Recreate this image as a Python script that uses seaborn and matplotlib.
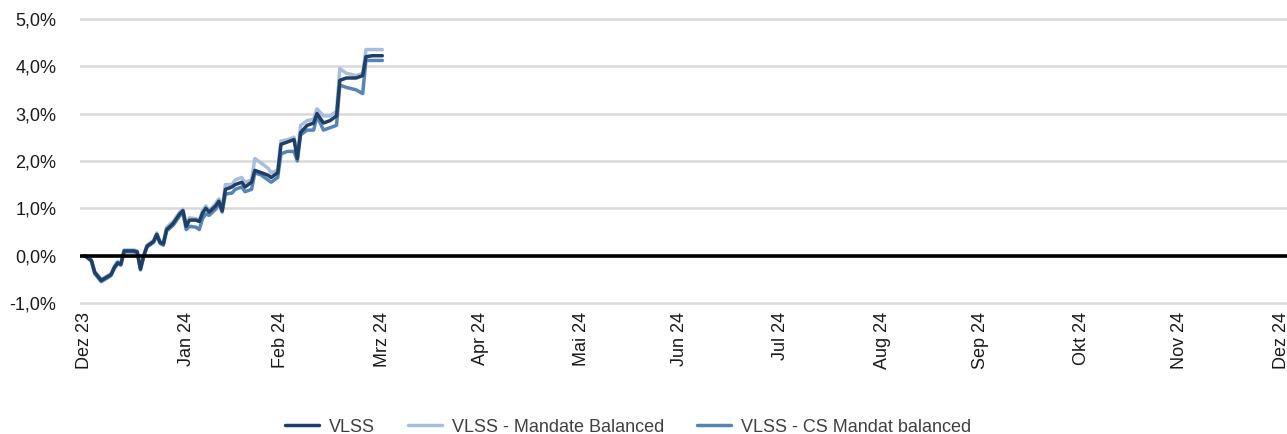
import pandas as pd
import numpy as np
import matplotlib
matplotlib.use("Agg")
import matplotlib.pyplot as plt
import matplotlib.ticker as mticker
import seaborn as sns

# Daten (Performance in %)
dates = ["2023-12-31", "2024-01-02", "2024-01-03", "2024-01-05", "2024-01-08", "2024-01-09",
         "2024-01-10", "2024-01-11", "2024-01-12", "2024-01-15", "2024-01-16", "2024-01-17",
         "2024-01-18", "2024-01-19", "2024-01-21", "2024-01-22", "2024-01-23", "2024-01-24",
         "2024-01-25", "2024-01-27", "2024-01-28", "2024-01-29", "2024-01-30", "2024-01-31",
         "2024-02-01", "2024-02-03", "2024-02-04", "2024-02-05", "2024-02-06", "2024-02-07",
         "2024-02-09", "2024-02-10", "2024-02-11", "2024-02-12", "2024-02-14", "2024-02-15",
         "2024-02-17", "2024-02-18", "2024-02-20", "2024-02-21", "2024-02-23", "2024-02-25",
         "2024-02-26", "2024-02-28", "2024-02-29", "2024-03-02", "2024-03-04", "2024-03-05",
         "2024-03-06", "2024-03-08", "2024-03-10", "2024-03-11", "2024-03-13", "2024-03-15",
         "2024-03-17", "2024-03-18", "2024-03-20", "2024-03-23", "2024-03-25", "2024-03-26",
         "2024-03-28", "2024-03-31"]

vlss = [0.0, -0.1, -0.35, -0.52, -0.4, -0.25, -0.15, -0.18, 0.1, 0.1, 0.08, -0.28,
        0.0, 0.2, 0.3, 0.45, 0.28, 0.25, 0.55, 0.68, 0.78, 0.88, 0.95, 0.62,
        0.75, 0.75, 0.72, 0.9, 1.0, 0.92, 1.05, 1.15, 0.95, 1.4, 1.45, 1.5,
        1.55, 1.45, 1.55, 1.8, 1.75, 1.7, 1.65, 1.75, 2.35, 2.4, 2.45, 2.05,
        2.6, 2.75, 2.8, 3.0, 2.8, 2.85, 2.95, 3.7, 3.75, 3.75, 3.8, 4.2,
        4.22, 4.22]

mandate_balanced = [0.0, -0.1, -0.33, -0.5, -0.38, -0.22, -0.12, -0.15, 0.12, 0.12, 0.1, -0.25,
                    0.02, 0.22, 0.32, 0.48, 0.3, 0.28, 0.6, 0.72, 0.82, 0.92, 0.98, 0.66,
                    0.8, 0.78, 0.75, 0.95, 1.05, 0.95, 1.1, 1.2, 1.0, 1.5, 1.5, 1.6,
                    1.65, 1.55, 1.6, 2.05, 1.95, 1.85, 1.75, 1.8, 2.42, 2.45, 2.5, 2.1,
                    2.75, 2.85, 2.88, 3.1, 2.95, 2.95, 3.05, 3.95, 3.85, 3.8, 3.85, 4.35,
                    4.35, 4.35]

cs_mandat = [0.0, -0.12, -0.38, -0.55, -0.42, -0.27, -0.17, -0.2, 0.08, 0.08, 0.06, -0.3,
             -0.02, 0.18, 0.28, 0.42, 0.26, 0.22, 0.52, 0.64, 0.74, 0.84, 0.9, 0.55,
             0.62, 0.6, 0.55, 0.78, 0.88, 0.85, 0.98, 1.1, 0.92, 1.3, 1.32, 1.4,
             1.45, 1.35, 1.4, 1.75, 1.7, 1.6, 1.55, 1.65, 2.15, 2.2, 2.2, 2.0,
             2.55, 2.65, 2.65, 2.95, 2.65, 2.7, 2.75, 3.6, 3.55, 3.5, 3.42, 4.12,
             4.12, 4.12]

series_names = ["VLSS", "VLSS - Mandate Balanced", "VLSS - CS Mandat balanced"]
farben = ["#1f3f66", "#a8bfdc", "#5684b8"]

tick_dates = ["2023-12-31", "2024-01-31", "2024-02-29", "2024-03-31", "2024-04-30", "2024-05-31",
              "2024-06-30", "2024-07-31", "2024-08-31", "2024-09-30", "2024-10-31", "2024-11-30",
              "2024-12-31"]
tick_labels = ["Dez 23", "Jan 24", "Feb 24", "Mrz 24", "Apr 24", "Mai 24", "Jun 24",
               "Jul 24", "Aug 24", "Sep 24", "Okt 24", "Nov 24", "Dez 24"]

# Long-Format für seaborn
df = pd.DataFrame({
    "Datum": pd.to_datetime(dates * 3),
    "Wert": vlss + mandate_balanced + cs_mandat,
    "Serie": np.repeat(series_names, len(dates)),
})

sns.set_style("white")
plt.rcParams["font.family"] = ["Liberation Sans", "DejaVu Sans"]

fig = plt.figure(figsize=(12.87, 4.34), dpi=100)
ax = fig.add_axes([80 / 1287, (434 - 305.4) / 434, 1207 / 1287, 289 / 434])

sns.lineplot(data=df, x="Datum", y="Wert", hue="Serie", hue_order=series_names,
             palette=farben, linewidth=2.5, ax=ax, legend=False)
# Reihenfolge der Linien (hell unten, dunkel oben)
for line, z in zip(ax.get_lines(), [4, 2, 3]):
    line.set_zorder(z)

ax.axhline(0, color="black", linewidth=2.6, zorder=5)

ax.set_ylim(-1.05, 5.05)
ax.set_yticks([-1, 0, 1, 2, 3, 4, 5])
ax.yaxis.set_major_formatter(mticker.FuncFormatter(lambda v, p: f"{v:.1f}%".replace(".", ",")))
ax.set_xlim(pd.Timestamp("2023-12-29 12:00"), pd.Timestamp("2025-01-01 20:00"))
ax.set_xticks(pd.to_datetime(tick_dates))
ax.set_xticklabels(tick_labels, rotation=90)

ax.grid(axis="y", color="#d9d9d9", linewidth=1.8)
ax.grid(axis="x", visible=False)
for s in ax.spines.values():
    s.set_visible(False)
ax.tick_params(axis="y", length=0, pad=17, labelsize=13, labelcolor="#1a1a1a")
ax.tick_params(axis="x", length=0, pad=5, labelsize=13, labelcolor="#1a1a1a")
ax.set_xlabel("")
ax.set_ylabel("")

handles = [plt.Line2D([], [], color=c, linewidth=2.5) for c in farben]
fig.legend(handles, series_names, loc="center", bbox_to_anchor=(0.488, 0.016), ncol=3,
           frameon=False, fontsize=13, handlelength=1.9, handletextpad=0.55,
           columnspacing=1.8, labelcolor="#404040")

fig.savefig("out.png", dpi=100)
